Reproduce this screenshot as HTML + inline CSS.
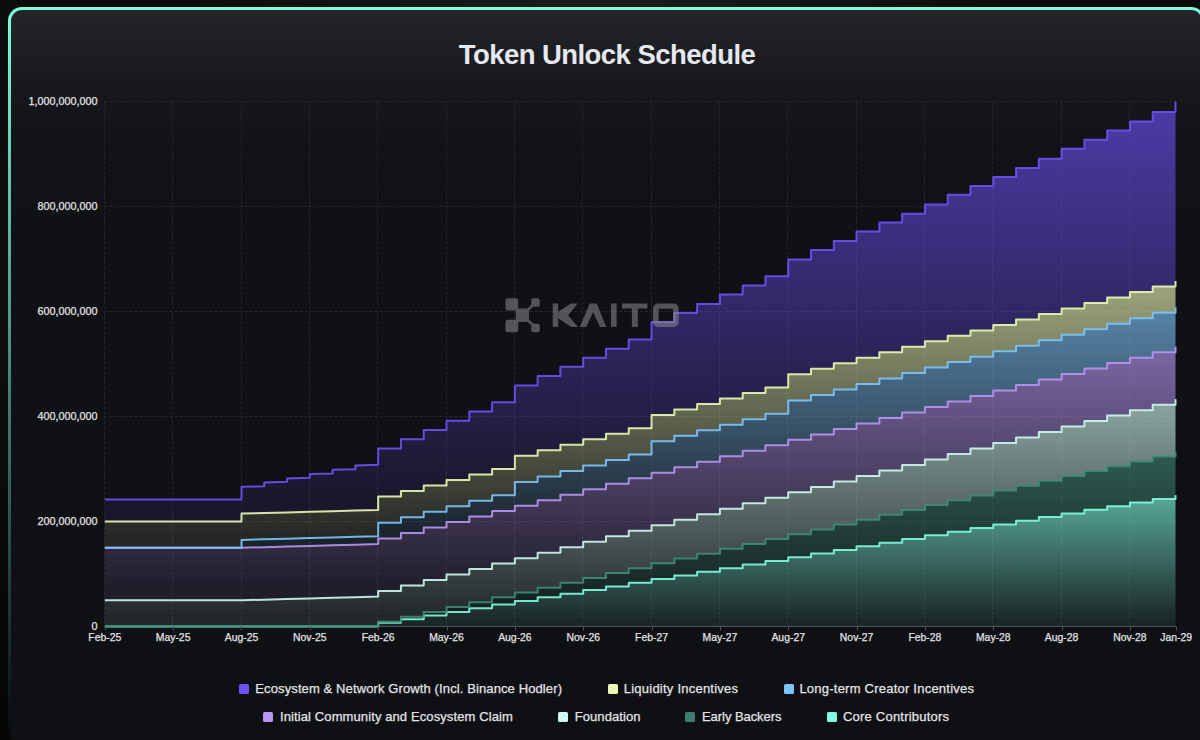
<!DOCTYPE html>
<html><head><meta charset="utf-8"><style>
html,body{margin:0;padding:0;}
body{width:1200px;height:740px;overflow:hidden;background:radial-gradient(ellipse 420px 90px at 600px 0px,#1c1c1c 0%,rgba(13,13,13,0) 100%),linear-gradient(to bottom,#0b0b0b 0%,#0f0f0f 40%,#050505 100%);position:relative;font-family:"Liberation Sans",sans-serif;}
.card{position:absolute;left:8px;top:7px;width:1197px;height:743px;border-radius:14px;
background:linear-gradient(to bottom,#80fde0 0%,rgba(128,253,224,0.6) 40%,rgba(128,253,224,0) 100%);}
.inner{position:absolute;left:3px;top:3px;right:3px;bottom:3px;border-radius:11px;
background:linear-gradient(to bottom,#242529 0px,#1e1f23 37px,#17181c 77px,#121317 132px,#101115 242px,#0f1014 100%);}
.title{position:absolute;left:0;width:1214px;top:38px;text-align:center;color:#e6e8ef;font-weight:bold;font-size:27.5px;letter-spacing:-0.55px;line-height:34px;}
svg{position:absolute;left:0;top:0;}
.lg{position:absolute;color:#e4e4e6;font-size:13px;line-height:16px;white-space:nowrap;-webkit-text-stroke:0.25px #e4e4e6;}
.sq{position:absolute;width:10px;height:10px;border-radius:1.5px;}
</style></head><body>
<div class="card"><div class="inner"></div></div>
<div class="title">Token Unlock Schedule</div>
<svg width="1200" height="740" viewBox="0 0 1200 740">
<defs><linearGradient id="g0" x1="0" y1="0" x2="0" y2="1"><stop offset="5%" stop-color="#80fde0" stop-opacity="0.62"/><stop offset="95%" stop-color="#80fde0" stop-opacity="0.1"/></linearGradient><linearGradient id="g1" x1="0" y1="0" x2="0" y2="1"><stop offset="5%" stop-color="#3f8472" stop-opacity="0.62"/><stop offset="95%" stop-color="#3f8472" stop-opacity="0.1"/></linearGradient><linearGradient id="g2" x1="0" y1="0" x2="0" y2="1"><stop offset="5%" stop-color="#cff8ee" stop-opacity="0.62"/><stop offset="95%" stop-color="#cff8ee" stop-opacity="0.1"/></linearGradient><linearGradient id="g3" x1="0" y1="0" x2="0" y2="1"><stop offset="5%" stop-color="#b796f2" stop-opacity="0.62"/><stop offset="95%" stop-color="#b796f2" stop-opacity="0.1"/></linearGradient><linearGradient id="g4" x1="0" y1="0" x2="0" y2="1"><stop offset="5%" stop-color="#7ec4f8" stop-opacity="0.62"/><stop offset="95%" stop-color="#7ec4f8" stop-opacity="0.1"/></linearGradient><linearGradient id="g5" x1="0" y1="0" x2="0" y2="1"><stop offset="5%" stop-color="#ebf9b5" stop-opacity="0.62"/><stop offset="95%" stop-color="#ebf9b5" stop-opacity="0.1"/></linearGradient><linearGradient id="g6" x1="0" y1="0" x2="0" y2="1"><stop offset="5%" stop-color="#6a52f5" stop-opacity="0.62"/><stop offset="95%" stop-color="#6a52f5" stop-opacity="0.1"/></linearGradient></defs>
<g stroke="#25272b" stroke-width="1" stroke-dasharray="3 2"><line x1="104.5" y1="101.5" x2="1176" y2="101.5"/><line x1="104.5" y1="206.5" x2="1176" y2="206.5"/><line x1="104.5" y1="311.5" x2="1176" y2="311.5"/><line x1="104.5" y1="416.5" x2="1176" y2="416.5"/><line x1="104.5" y1="521.5" x2="1176" y2="521.5"/><line x1="104.5" y1="101.5" x2="104.5" y2="626"/><line x1="172.5" y1="101.5" x2="172.5" y2="626"/><line x1="241.5" y1="101.5" x2="241.5" y2="626"/><line x1="309.5" y1="101.5" x2="309.5" y2="626"/><line x1="377.5" y1="101.5" x2="377.5" y2="626"/><line x1="446.5" y1="101.5" x2="446.5" y2="626"/><line x1="514.5" y1="101.5" x2="514.5" y2="626"/><line x1="582.5" y1="101.5" x2="582.5" y2="626"/><line x1="651.5" y1="101.5" x2="651.5" y2="626"/><line x1="719.5" y1="101.5" x2="719.5" y2="626"/><line x1="787.5" y1="101.5" x2="787.5" y2="626"/><line x1="856.5" y1="101.5" x2="856.5" y2="626"/><line x1="924.5" y1="101.5" x2="924.5" y2="626"/><line x1="992.5" y1="101.5" x2="992.5" y2="626"/><line x1="1061.5" y1="101.5" x2="1061.5" y2="626"/><line x1="1129.5" y1="101.5" x2="1129.5" y2="626"/></g>
<path d="M104.80,626.50 378.17,626.50 378.17,622.85 400.95,622.85 400.95,619.21 423.73,619.21 423.73,615.56 446.51,615.56 446.51,611.92 469.30,611.92 469.30,608.27 492.08,608.27 492.08,604.62 514.86,604.62 514.86,600.98 537.64,600.98 537.64,597.33 560.42,597.33 560.42,593.69 583.20,593.69 583.20,590.04 605.98,590.04 605.98,586.40 628.76,586.40 628.76,582.75 651.54,582.75 651.54,579.10 674.32,579.10 674.32,575.46 697.11,575.46 697.11,571.81 719.89,571.81 719.89,568.17 742.67,568.17 742.67,564.52 765.45,564.52 765.45,560.88 788.23,560.88 788.23,557.23 811.01,557.23 811.01,553.58 833.79,553.58 833.79,549.94 856.57,549.94 856.57,546.29 879.35,546.29 879.35,542.65 902.13,542.65 902.13,539.00 924.92,539.00 924.92,535.35 947.70,535.35 947.70,531.71 970.48,531.71 970.48,528.06 993.26,528.06 993.26,524.42 1016.04,524.42 1016.04,520.77 1038.82,520.77 1038.82,517.12 1061.60,517.12 1061.60,513.48 1084.38,513.48 1084.38,509.83 1107.16,509.83 1107.16,506.19 1129.94,506.19 1129.94,502.54 1152.73,502.54 1152.73,498.90 1175.51,498.90 1175.51,495.25 1175.51,626.50 104.80,626.50Z" fill="url(#g0)"/><path d="M104.80,626.50 378.17,626.50 378.17,621.64 400.95,621.64 400.95,616.79 423.73,616.79 423.73,611.93 446.51,611.93 446.51,607.08 469.30,607.08 469.30,602.22 492.08,602.22 492.08,597.36 514.86,597.36 514.86,592.51 537.64,592.51 537.64,587.65 560.42,587.65 560.42,582.79 583.20,582.79 583.20,577.94 605.98,577.94 605.98,573.08 628.76,573.08 628.76,568.23 651.54,568.23 651.54,563.37 674.32,563.37 674.32,558.51 697.11,558.51 697.11,553.66 719.89,553.66 719.89,548.80 742.67,548.80 742.67,543.94 765.45,543.94 765.45,539.09 788.23,539.09 788.23,534.23 811.01,534.23 811.01,529.38 833.79,529.38 833.79,524.52 856.57,524.52 856.57,519.66 879.35,519.66 879.35,514.81 902.13,514.81 902.13,509.95 924.92,509.95 924.92,505.09 947.70,505.09 947.70,500.24 970.48,500.24 970.48,495.38 993.26,495.38 993.26,490.52 1016.04,490.52 1016.04,485.67 1038.82,485.67 1038.82,480.81 1061.60,480.81 1061.60,475.96 1084.38,475.96 1084.38,471.10 1107.16,471.10 1107.16,466.24 1129.94,466.24 1129.94,461.39 1152.73,461.39 1152.73,456.53 1175.51,456.53 1175.51,451.67 1175.51,495.25 1175.51,498.90 1152.73,498.90 1152.73,502.54 1129.94,502.54 1129.94,506.19 1107.16,506.19 1107.16,509.83 1084.38,509.83 1084.38,513.48 1061.60,513.48 1061.60,517.12 1038.82,517.12 1038.82,520.77 1016.04,520.77 1016.04,524.42 993.26,524.42 993.26,528.06 970.48,528.06 970.48,531.71 947.70,531.71 947.70,535.35 924.92,535.35 924.92,539.00 902.13,539.00 902.13,542.65 879.35,542.65 879.35,546.29 856.57,546.29 856.57,549.94 833.79,549.94 833.79,553.58 811.01,553.58 811.01,557.23 788.23,557.23 788.23,560.88 765.45,560.88 765.45,564.52 742.67,564.52 742.67,568.17 719.89,568.17 719.89,571.81 697.11,571.81 697.11,575.46 674.32,575.46 674.32,579.10 651.54,579.10 651.54,582.75 628.76,582.75 628.76,586.40 605.98,586.40 605.98,590.04 583.20,590.04 583.20,593.69 560.42,593.69 560.42,597.33 537.64,597.33 537.64,600.98 514.86,600.98 514.86,604.62 492.08,604.62 492.08,608.27 469.30,608.27 469.30,611.92 446.51,611.92 446.51,615.56 423.73,615.56 423.73,619.21 400.95,619.21 400.95,622.85 378.17,622.85 378.17,626.50 104.80,626.50Z" fill="url(#g1)"/><path d="M104.80,600.25 241.49,600.25 264.27,599.63 287.05,599.00 309.83,598.38 332.61,597.75 355.39,597.13 378.17,596.50 378.17,591.02 400.95,591.02 400.95,585.54 423.73,585.54 423.73,580.06 446.51,580.06 446.51,574.58 469.30,574.58 469.30,569.09 492.08,569.09 492.08,563.61 514.86,563.61 514.86,558.13 537.64,558.13 537.64,552.65 560.42,552.65 560.42,547.17 583.20,547.17 583.20,541.69 605.98,541.69 605.98,536.21 628.76,536.21 628.76,530.73 651.54,530.73 651.54,525.24 674.32,525.24 674.32,519.76 697.11,519.76 697.11,514.28 719.89,514.28 719.89,508.80 742.67,508.80 742.67,503.32 765.45,503.32 765.45,497.84 788.23,497.84 788.23,492.36 811.01,492.36 811.01,486.88 833.79,486.88 833.79,481.39 856.57,481.39 856.57,475.91 879.35,475.91 879.35,470.43 902.13,470.43 902.13,464.95 924.92,464.95 924.92,459.47 947.70,459.47 947.70,453.99 970.48,453.99 970.48,448.51 993.26,448.51 993.26,443.02 1016.04,443.02 1016.04,437.54 1038.82,437.54 1038.82,432.06 1061.60,432.06 1061.60,426.58 1084.38,426.58 1084.38,421.10 1107.16,421.10 1107.16,415.62 1129.94,415.62 1129.94,410.14 1152.73,410.14 1152.73,404.66 1175.51,404.66 1175.51,399.17 1175.51,451.67 1175.51,456.53 1152.73,456.53 1152.73,461.39 1129.94,461.39 1129.94,466.24 1107.16,466.24 1107.16,471.10 1084.38,471.10 1084.38,475.96 1061.60,475.96 1061.60,480.81 1038.82,480.81 1038.82,485.67 1016.04,485.67 1016.04,490.52 993.26,490.52 993.26,495.38 970.48,495.38 970.48,500.24 947.70,500.24 947.70,505.09 924.92,505.09 924.92,509.95 902.13,509.95 902.13,514.81 879.35,514.81 879.35,519.66 856.57,519.66 856.57,524.52 833.79,524.52 833.79,529.38 811.01,529.38 811.01,534.23 788.23,534.23 788.23,539.09 765.45,539.09 765.45,543.94 742.67,543.94 742.67,548.80 719.89,548.80 719.89,553.66 697.11,553.66 697.11,558.51 674.32,558.51 674.32,563.37 651.54,563.37 651.54,568.23 628.76,568.23 628.76,573.08 605.98,573.08 605.98,577.94 583.20,577.94 583.20,582.79 560.42,582.79 560.42,587.65 537.64,587.65 537.64,592.51 514.86,592.51 514.86,597.36 492.08,597.36 492.08,602.22 469.30,602.22 469.30,607.08 446.51,607.08 446.51,611.93 423.73,611.93 423.73,616.79 400.95,616.79 400.95,621.64 378.17,621.64 378.17,626.50 104.80,626.50Z" fill="url(#g2)"/><path d="M104.80,547.75 241.49,547.75 264.27,547.13 287.05,546.50 309.83,545.88 332.61,545.25 355.39,544.63 378.17,544.00 378.17,538.52 400.95,538.52 400.95,533.04 423.73,533.04 423.73,527.56 446.51,527.56 446.51,522.08 469.30,522.08 469.30,516.59 492.08,516.59 492.08,511.11 514.86,511.11 514.86,505.63 537.64,505.63 537.64,500.15 560.42,500.15 560.42,494.67 583.20,494.67 583.20,489.19 605.98,489.19 605.98,483.71 628.76,483.71 628.76,478.23 651.54,478.23 651.54,472.74 674.32,472.74 674.32,467.26 697.11,467.26 697.11,461.78 719.89,461.78 719.89,456.30 742.67,456.30 742.67,450.82 765.45,450.82 765.45,445.34 788.23,445.34 788.23,439.86 811.01,439.86 811.01,434.38 833.79,434.38 833.79,428.89 856.57,428.89 856.57,423.41 879.35,423.41 879.35,417.93 902.13,417.93 902.13,412.45 924.92,412.45 924.92,406.97 947.70,406.97 947.70,401.49 970.48,401.49 970.48,396.01 993.26,396.01 993.26,390.52 1016.04,390.52 1016.04,385.04 1038.82,385.04 1038.82,379.56 1061.60,379.56 1061.60,374.08 1084.38,374.08 1084.38,368.60 1107.16,368.60 1107.16,363.12 1129.94,363.12 1129.94,357.64 1152.73,357.64 1152.73,352.16 1175.51,352.16 1175.51,346.68 1175.51,399.17 1175.51,404.66 1152.73,404.66 1152.73,410.14 1129.94,410.14 1129.94,415.62 1107.16,415.62 1107.16,421.10 1084.38,421.10 1084.38,426.58 1061.60,426.58 1061.60,432.06 1038.82,432.06 1038.82,437.54 1016.04,437.54 1016.04,443.02 993.26,443.02 993.26,448.51 970.48,448.51 970.48,453.99 947.70,453.99 947.70,459.47 924.92,459.47 924.92,464.95 902.13,464.95 902.13,470.43 879.35,470.43 879.35,475.91 856.57,475.91 856.57,481.39 833.79,481.39 833.79,486.88 811.01,486.88 811.01,492.36 788.23,492.36 788.23,497.84 765.45,497.84 765.45,503.32 742.67,503.32 742.67,508.80 719.89,508.80 719.89,514.28 697.11,514.28 697.11,519.76 674.32,519.76 674.32,525.24 651.54,525.24 651.54,530.73 628.76,530.73 628.76,536.21 605.98,536.21 605.98,541.69 583.20,541.69 583.20,547.17 560.42,547.17 560.42,552.65 537.64,552.65 537.64,558.13 514.86,558.13 514.86,563.61 492.08,563.61 492.08,569.09 469.30,569.09 469.30,574.58 446.51,574.58 446.51,580.06 423.73,580.06 423.73,585.54 400.95,585.54 400.95,591.02 378.17,591.02 378.17,596.50 355.39,597.13 332.61,597.75 309.83,598.38 287.05,599.00 264.27,599.63 241.49,600.25 104.80,600.25Z" fill="url(#g3)"/><path d="M104.80,547.75 241.49,547.75 241.49,539.88 264.27,539.25 287.05,538.63 309.83,538.00 332.61,537.38 355.39,536.75 378.17,536.13 378.17,522.77 400.95,522.77 400.95,517.29 423.73,517.29 423.73,511.81 446.51,511.81 446.51,506.32 469.30,506.32 469.30,500.84 492.08,500.84 492.08,495.36 514.86,495.36 514.86,482.01 537.64,482.01 537.64,476.52 560.42,476.52 560.42,471.04 583.20,471.04 583.20,465.56 605.98,465.56 605.98,460.08 628.76,460.08 628.76,454.60 651.54,454.60 651.54,441.24 674.32,441.24 674.32,435.76 697.11,435.76 697.11,430.28 719.89,430.28 719.89,424.80 742.67,424.80 742.67,419.32 765.45,419.32 765.45,413.84 788.23,413.84 788.23,400.48 811.01,400.48 811.01,395.00 833.79,395.00 833.79,389.52 856.57,389.52 856.57,384.04 879.35,384.04 879.35,378.56 902.13,378.56 902.13,373.07 924.92,373.07 924.92,367.59 947.70,367.59 947.70,362.11 970.48,362.11 970.48,356.63 993.26,356.63 993.26,351.15 1016.04,351.15 1016.04,345.67 1038.82,345.67 1038.82,340.19 1061.60,340.19 1061.60,334.71 1084.38,334.71 1084.38,329.23 1107.16,329.23 1107.16,323.74 1129.94,323.74 1129.94,318.26 1152.73,318.26 1152.73,312.78 1175.51,312.78 1175.51,307.30 1175.51,346.68 1175.51,352.16 1152.73,352.16 1152.73,357.64 1129.94,357.64 1129.94,363.12 1107.16,363.12 1107.16,368.60 1084.38,368.60 1084.38,374.08 1061.60,374.08 1061.60,379.56 1038.82,379.56 1038.82,385.04 1016.04,385.04 1016.04,390.52 993.26,390.52 993.26,396.01 970.48,396.01 970.48,401.49 947.70,401.49 947.70,406.97 924.92,406.97 924.92,412.45 902.13,412.45 902.13,417.93 879.35,417.93 879.35,423.41 856.57,423.41 856.57,428.89 833.79,428.89 833.79,434.38 811.01,434.38 811.01,439.86 788.23,439.86 788.23,445.34 765.45,445.34 765.45,450.82 742.67,450.82 742.67,456.30 719.89,456.30 719.89,461.78 697.11,461.78 697.11,467.26 674.32,467.26 674.32,472.74 651.54,472.74 651.54,478.23 628.76,478.23 628.76,483.71 605.98,483.71 605.98,489.19 583.20,489.19 583.20,494.67 560.42,494.67 560.42,500.15 537.64,500.15 537.64,505.63 514.86,505.63 514.86,511.11 492.08,511.11 492.08,516.59 469.30,516.59 469.30,522.08 446.51,522.08 446.51,527.56 423.73,527.56 423.73,533.04 400.95,533.04 400.95,538.52 378.17,538.52 378.17,544.00 355.39,544.63 332.61,545.25 309.83,545.88 287.05,546.50 264.27,547.13 241.49,547.75 104.80,547.75Z" fill="url(#g4)"/><path d="M104.80,521.50 241.49,521.50 241.49,513.62 264.27,513.00 287.05,512.38 309.83,511.75 332.61,511.13 355.39,510.50 378.17,509.88 378.17,496.52 400.95,496.52 400.95,491.04 423.73,491.04 423.73,485.56 446.51,485.56 446.51,480.07 469.30,480.07 469.30,474.59 492.08,474.59 492.08,469.11 514.86,469.11 514.86,455.76 537.64,455.76 537.64,450.27 560.42,450.27 560.42,444.79 583.20,444.79 583.20,439.31 605.98,439.31 605.98,433.83 628.76,433.83 628.76,428.35 651.54,428.35 651.54,414.99 674.32,414.99 674.32,409.51 697.11,409.51 697.11,404.03 719.89,404.03 719.89,398.55 742.67,398.55 742.67,393.07 765.45,393.07 765.45,387.59 788.23,387.59 788.23,374.23 811.01,374.23 811.01,368.75 833.79,368.75 833.79,363.27 856.57,363.27 856.57,357.79 879.35,357.79 879.35,352.31 902.13,352.31 902.13,346.82 924.92,346.82 924.92,341.34 947.70,341.34 947.70,335.86 970.48,335.86 970.48,330.38 993.26,330.38 993.26,324.90 1016.04,324.90 1016.04,319.42 1038.82,319.42 1038.82,313.94 1061.60,313.94 1061.60,308.46 1084.38,308.46 1084.38,302.98 1107.16,302.98 1107.16,297.49 1129.94,297.49 1129.94,292.01 1152.73,292.01 1152.73,286.53 1175.51,286.53 1175.51,281.05 1175.51,307.30 1175.51,312.78 1152.73,312.78 1152.73,318.26 1129.94,318.26 1129.94,323.74 1107.16,323.74 1107.16,329.23 1084.38,329.23 1084.38,334.71 1061.60,334.71 1061.60,340.19 1038.82,340.19 1038.82,345.67 1016.04,345.67 1016.04,351.15 993.26,351.15 993.26,356.63 970.48,356.63 970.48,362.11 947.70,362.11 947.70,367.59 924.92,367.59 924.92,373.07 902.13,373.07 902.13,378.56 879.35,378.56 879.35,384.04 856.57,384.04 856.57,389.52 833.79,389.52 833.79,395.00 811.01,395.00 811.01,400.48 788.23,400.48 788.23,413.84 765.45,413.84 765.45,419.32 742.67,419.32 742.67,424.80 719.89,424.80 719.89,430.28 697.11,430.28 697.11,435.76 674.32,435.76 674.32,441.24 651.54,441.24 651.54,454.60 628.76,454.60 628.76,460.08 605.98,460.08 605.98,465.56 583.20,465.56 583.20,471.04 560.42,471.04 560.42,476.52 537.64,476.52 537.64,482.01 514.86,482.01 514.86,495.36 492.08,495.36 492.08,500.84 469.30,500.84 469.30,506.32 446.51,506.32 446.51,511.81 423.73,511.81 423.73,517.29 400.95,517.29 400.95,522.77 378.17,522.77 378.17,536.13 355.39,536.75 332.61,537.38 309.83,538.00 287.05,538.63 264.27,539.25 241.49,539.88 241.49,547.75 104.80,547.75Z" fill="url(#g5)"/><path d="M104.80,499.50 241.49,499.50 241.49,486.80 264.27,486.18 264.27,482.40 287.05,481.78 287.05,478.40 309.83,477.78 309.83,474.00 332.61,473.38 332.61,469.80 355.39,469.18 355.39,465.40 378.17,464.78 378.17,448.60 400.95,448.60 400.95,439.20 423.73,439.20 423.73,430.10 446.51,430.10 446.51,420.80 469.30,420.80 469.30,411.50 492.08,411.50 492.08,402.20 514.86,402.20 514.86,385.50 537.64,385.50 537.64,376.10 560.42,376.10 560.42,366.80 583.20,366.80 583.20,357.70 605.98,357.70 605.98,348.70 628.76,348.70 628.76,339.60 651.54,339.60 651.54,322.00 674.32,322.00 674.32,312.90 697.11,312.90 697.11,303.90 719.89,303.90 719.89,294.40 742.67,294.40 742.67,285.40 765.45,285.40 765.45,276.30 788.23,276.30 788.23,259.40 811.01,259.40 811.01,250.00 833.79,250.00 833.79,240.90 856.57,240.90 856.57,231.60 879.35,231.60 879.35,222.60 902.13,222.60 902.13,213.70 924.92,213.70 924.92,204.60 947.70,204.60 947.70,194.80 970.48,194.80 970.48,185.90 993.26,185.90 993.26,177.00 1016.04,177.00 1016.04,167.90 1038.82,167.90 1038.82,158.80 1061.60,158.80 1061.60,148.80 1084.38,148.80 1084.38,139.70 1107.16,139.70 1107.16,130.60 1129.94,130.60 1129.94,121.50 1152.73,121.50 1152.73,112.00 1175.51,112.00 1175.51,101.50 1175.51,281.05 1175.51,286.53 1152.73,286.53 1152.73,292.01 1129.94,292.01 1129.94,297.49 1107.16,297.49 1107.16,302.98 1084.38,302.98 1084.38,308.46 1061.60,308.46 1061.60,313.94 1038.82,313.94 1038.82,319.42 1016.04,319.42 1016.04,324.90 993.26,324.90 993.26,330.38 970.48,330.38 970.48,335.86 947.70,335.86 947.70,341.34 924.92,341.34 924.92,346.82 902.13,346.82 902.13,352.31 879.35,352.31 879.35,357.79 856.57,357.79 856.57,363.27 833.79,363.27 833.79,368.75 811.01,368.75 811.01,374.23 788.23,374.23 788.23,387.59 765.45,387.59 765.45,393.07 742.67,393.07 742.67,398.55 719.89,398.55 719.89,404.03 697.11,404.03 697.11,409.51 674.32,409.51 674.32,414.99 651.54,414.99 651.54,428.35 628.76,428.35 628.76,433.83 605.98,433.83 605.98,439.31 583.20,439.31 583.20,444.79 560.42,444.79 560.42,450.27 537.64,450.27 537.64,455.76 514.86,455.76 514.86,469.11 492.08,469.11 492.08,474.59 469.30,474.59 469.30,480.07 446.51,480.07 446.51,485.56 423.73,485.56 423.73,491.04 400.95,491.04 400.95,496.52 378.17,496.52 378.17,509.88 355.39,510.50 332.61,511.13 309.83,511.75 287.05,512.38 264.27,513.00 241.49,513.62 241.49,521.50 104.80,521.50Z" fill="url(#g6)"/>
<line x1="104.5" y1="626.5" x2="1176" y2="626.5" stroke="#51545c" stroke-width="1"/>
<polyline points="104.80,626.50 378.17,626.50 378.17,622.85 400.95,622.85 400.95,619.21 423.73,619.21 423.73,615.56 446.51,615.56 446.51,611.92 469.30,611.92 469.30,608.27 492.08,608.27 492.08,604.62 514.86,604.62 514.86,600.98 537.64,600.98 537.64,597.33 560.42,597.33 560.42,593.69 583.20,593.69 583.20,590.04 605.98,590.04 605.98,586.40 628.76,586.40 628.76,582.75 651.54,582.75 651.54,579.10 674.32,579.10 674.32,575.46 697.11,575.46 697.11,571.81 719.89,571.81 719.89,568.17 742.67,568.17 742.67,564.52 765.45,564.52 765.45,560.88 788.23,560.88 788.23,557.23 811.01,557.23 811.01,553.58 833.79,553.58 833.79,549.94 856.57,549.94 856.57,546.29 879.35,546.29 879.35,542.65 902.13,542.65 902.13,539.00 924.92,539.00 924.92,535.35 947.70,535.35 947.70,531.71 970.48,531.71 970.48,528.06 993.26,528.06 993.26,524.42 1016.04,524.42 1016.04,520.77 1038.82,520.77 1038.82,517.12 1061.60,517.12 1061.60,513.48 1084.38,513.48 1084.38,509.83 1107.16,509.83 1107.16,506.19 1129.94,506.19 1129.94,502.54 1152.73,502.54 1152.73,498.90 1175.51,498.90 1175.51,495.25" fill="none" stroke="#80fde0" stroke-width="2" stroke-linejoin="round" stroke-opacity="0.9"/><polyline points="104.80,626.50 378.17,626.50 378.17,621.64 400.95,621.64 400.95,616.79 423.73,616.79 423.73,611.93 446.51,611.93 446.51,607.08 469.30,607.08 469.30,602.22 492.08,602.22 492.08,597.36 514.86,597.36 514.86,592.51 537.64,592.51 537.64,587.65 560.42,587.65 560.42,582.79 583.20,582.79 583.20,577.94 605.98,577.94 605.98,573.08 628.76,573.08 628.76,568.23 651.54,568.23 651.54,563.37 674.32,563.37 674.32,558.51 697.11,558.51 697.11,553.66 719.89,553.66 719.89,548.80 742.67,548.80 742.67,543.94 765.45,543.94 765.45,539.09 788.23,539.09 788.23,534.23 811.01,534.23 811.01,529.38 833.79,529.38 833.79,524.52 856.57,524.52 856.57,519.66 879.35,519.66 879.35,514.81 902.13,514.81 902.13,509.95 924.92,509.95 924.92,505.09 947.70,505.09 947.70,500.24 970.48,500.24 970.48,495.38 993.26,495.38 993.26,490.52 1016.04,490.52 1016.04,485.67 1038.82,485.67 1038.82,480.81 1061.60,480.81 1061.60,475.96 1084.38,475.96 1084.38,471.10 1107.16,471.10 1107.16,466.24 1129.94,466.24 1129.94,461.39 1152.73,461.39 1152.73,456.53 1175.51,456.53 1175.51,451.67" fill="none" stroke="#3f8c78" stroke-width="2" stroke-linejoin="round" stroke-opacity="0.9"/><polyline points="104.80,600.25 241.49,600.25 264.27,599.63 287.05,599.00 309.83,598.38 332.61,597.75 355.39,597.13 378.17,596.50 378.17,591.02 400.95,591.02 400.95,585.54 423.73,585.54 423.73,580.06 446.51,580.06 446.51,574.58 469.30,574.58 469.30,569.09 492.08,569.09 492.08,563.61 514.86,563.61 514.86,558.13 537.64,558.13 537.64,552.65 560.42,552.65 560.42,547.17 583.20,547.17 583.20,541.69 605.98,541.69 605.98,536.21 628.76,536.21 628.76,530.73 651.54,530.73 651.54,525.24 674.32,525.24 674.32,519.76 697.11,519.76 697.11,514.28 719.89,514.28 719.89,508.80 742.67,508.80 742.67,503.32 765.45,503.32 765.45,497.84 788.23,497.84 788.23,492.36 811.01,492.36 811.01,486.88 833.79,486.88 833.79,481.39 856.57,481.39 856.57,475.91 879.35,475.91 879.35,470.43 902.13,470.43 902.13,464.95 924.92,464.95 924.92,459.47 947.70,459.47 947.70,453.99 970.48,453.99 970.48,448.51 993.26,448.51 993.26,443.02 1016.04,443.02 1016.04,437.54 1038.82,437.54 1038.82,432.06 1061.60,432.06 1061.60,426.58 1084.38,426.58 1084.38,421.10 1107.16,421.10 1107.16,415.62 1129.94,415.62 1129.94,410.14 1152.73,410.14 1152.73,404.66 1175.51,404.66 1175.51,399.17" fill="none" stroke="#cff8ee" stroke-width="2" stroke-linejoin="round" stroke-opacity="0.9"/><polyline points="104.80,547.75 241.49,547.75 264.27,547.13 287.05,546.50 309.83,545.88 332.61,545.25 355.39,544.63 378.17,544.00 378.17,538.52 400.95,538.52 400.95,533.04 423.73,533.04 423.73,527.56 446.51,527.56 446.51,522.08 469.30,522.08 469.30,516.59 492.08,516.59 492.08,511.11 514.86,511.11 514.86,505.63 537.64,505.63 537.64,500.15 560.42,500.15 560.42,494.67 583.20,494.67 583.20,489.19 605.98,489.19 605.98,483.71 628.76,483.71 628.76,478.23 651.54,478.23 651.54,472.74 674.32,472.74 674.32,467.26 697.11,467.26 697.11,461.78 719.89,461.78 719.89,456.30 742.67,456.30 742.67,450.82 765.45,450.82 765.45,445.34 788.23,445.34 788.23,439.86 811.01,439.86 811.01,434.38 833.79,434.38 833.79,428.89 856.57,428.89 856.57,423.41 879.35,423.41 879.35,417.93 902.13,417.93 902.13,412.45 924.92,412.45 924.92,406.97 947.70,406.97 947.70,401.49 970.48,401.49 970.48,396.01 993.26,396.01 993.26,390.52 1016.04,390.52 1016.04,385.04 1038.82,385.04 1038.82,379.56 1061.60,379.56 1061.60,374.08 1084.38,374.08 1084.38,368.60 1107.16,368.60 1107.16,363.12 1129.94,363.12 1129.94,357.64 1152.73,357.64 1152.73,352.16 1175.51,352.16 1175.51,346.68" fill="none" stroke="#b796f2" stroke-width="2" stroke-linejoin="round" stroke-opacity="0.9"/><polyline points="104.80,547.75 241.49,547.75 241.49,539.88 264.27,539.25 287.05,538.63 309.83,538.00 332.61,537.38 355.39,536.75 378.17,536.13 378.17,522.77 400.95,522.77 400.95,517.29 423.73,517.29 423.73,511.81 446.51,511.81 446.51,506.32 469.30,506.32 469.30,500.84 492.08,500.84 492.08,495.36 514.86,495.36 514.86,482.01 537.64,482.01 537.64,476.52 560.42,476.52 560.42,471.04 583.20,471.04 583.20,465.56 605.98,465.56 605.98,460.08 628.76,460.08 628.76,454.60 651.54,454.60 651.54,441.24 674.32,441.24 674.32,435.76 697.11,435.76 697.11,430.28 719.89,430.28 719.89,424.80 742.67,424.80 742.67,419.32 765.45,419.32 765.45,413.84 788.23,413.84 788.23,400.48 811.01,400.48 811.01,395.00 833.79,395.00 833.79,389.52 856.57,389.52 856.57,384.04 879.35,384.04 879.35,378.56 902.13,378.56 902.13,373.07 924.92,373.07 924.92,367.59 947.70,367.59 947.70,362.11 970.48,362.11 970.48,356.63 993.26,356.63 993.26,351.15 1016.04,351.15 1016.04,345.67 1038.82,345.67 1038.82,340.19 1061.60,340.19 1061.60,334.71 1084.38,334.71 1084.38,329.23 1107.16,329.23 1107.16,323.74 1129.94,323.74 1129.94,318.26 1152.73,318.26 1152.73,312.78 1175.51,312.78 1175.51,307.30" fill="none" stroke="#7ec4f8" stroke-width="2" stroke-linejoin="round" stroke-opacity="0.9"/><polyline points="104.80,521.50 241.49,521.50 241.49,513.62 264.27,513.00 287.05,512.38 309.83,511.75 332.61,511.13 355.39,510.50 378.17,509.88 378.17,496.52 400.95,496.52 400.95,491.04 423.73,491.04 423.73,485.56 446.51,485.56 446.51,480.07 469.30,480.07 469.30,474.59 492.08,474.59 492.08,469.11 514.86,469.11 514.86,455.76 537.64,455.76 537.64,450.27 560.42,450.27 560.42,444.79 583.20,444.79 583.20,439.31 605.98,439.31 605.98,433.83 628.76,433.83 628.76,428.35 651.54,428.35 651.54,414.99 674.32,414.99 674.32,409.51 697.11,409.51 697.11,404.03 719.89,404.03 719.89,398.55 742.67,398.55 742.67,393.07 765.45,393.07 765.45,387.59 788.23,387.59 788.23,374.23 811.01,374.23 811.01,368.75 833.79,368.75 833.79,363.27 856.57,363.27 856.57,357.79 879.35,357.79 879.35,352.31 902.13,352.31 902.13,346.82 924.92,346.82 924.92,341.34 947.70,341.34 947.70,335.86 970.48,335.86 970.48,330.38 993.26,330.38 993.26,324.90 1016.04,324.90 1016.04,319.42 1038.82,319.42 1038.82,313.94 1061.60,313.94 1061.60,308.46 1084.38,308.46 1084.38,302.98 1107.16,302.98 1107.16,297.49 1129.94,297.49 1129.94,292.01 1152.73,292.01 1152.73,286.53 1175.51,286.53 1175.51,281.05" fill="none" stroke="#ebf9b5" stroke-width="2" stroke-linejoin="round" stroke-opacity="0.9"/><polyline points="104.80,499.50 241.49,499.50 241.49,486.80 264.27,486.18 264.27,482.40 287.05,481.78 287.05,478.40 309.83,477.78 309.83,474.00 332.61,473.38 332.61,469.80 355.39,469.18 355.39,465.40 378.17,464.78 378.17,448.60 400.95,448.60 400.95,439.20 423.73,439.20 423.73,430.10 446.51,430.10 446.51,420.80 469.30,420.80 469.30,411.50 492.08,411.50 492.08,402.20 514.86,402.20 514.86,385.50 537.64,385.50 537.64,376.10 560.42,376.10 560.42,366.80 583.20,366.80 583.20,357.70 605.98,357.70 605.98,348.70 628.76,348.70 628.76,339.60 651.54,339.60 651.54,322.00 674.32,322.00 674.32,312.90 697.11,312.90 697.11,303.90 719.89,303.90 719.89,294.40 742.67,294.40 742.67,285.40 765.45,285.40 765.45,276.30 788.23,276.30 788.23,259.40 811.01,259.40 811.01,250.00 833.79,250.00 833.79,240.90 856.57,240.90 856.57,231.60 879.35,231.60 879.35,222.60 902.13,222.60 902.13,213.70 924.92,213.70 924.92,204.60 947.70,204.60 947.70,194.80 970.48,194.80 970.48,185.90 993.26,185.90 993.26,177.00 1016.04,177.00 1016.04,167.90 1038.82,167.90 1038.82,158.80 1061.60,158.80 1061.60,148.80 1084.38,148.80 1084.38,139.70 1107.16,139.70 1107.16,130.60 1129.94,130.60 1129.94,121.50 1152.73,121.50 1152.73,112.00 1175.51,112.00 1175.51,101.50" fill="none" stroke="#6a52f5" stroke-width="2" stroke-linejoin="round" stroke-opacity="0.9"/>
<g stroke="#4c4f56" stroke-width="1"><line x1="105.5" y1="626.5" x2="105.5" y2="630.5"/><line x1="173.5" y1="626.5" x2="173.5" y2="630.5"/><line x1="241.5" y1="626.5" x2="241.5" y2="630.5"/><line x1="310.5" y1="626.5" x2="310.5" y2="630.5"/><line x1="378.5" y1="626.5" x2="378.5" y2="630.5"/><line x1="447.5" y1="626.5" x2="447.5" y2="630.5"/><line x1="515.5" y1="626.5" x2="515.5" y2="630.5"/><line x1="583.5" y1="626.5" x2="583.5" y2="630.5"/><line x1="652.5" y1="626.5" x2="652.5" y2="630.5"/><line x1="720.5" y1="626.5" x2="720.5" y2="630.5"/><line x1="788.5" y1="626.5" x2="788.5" y2="630.5"/><line x1="857.5" y1="626.5" x2="857.5" y2="630.5"/><line x1="925.5" y1="626.5" x2="925.5" y2="630.5"/><line x1="993.5" y1="626.5" x2="993.5" y2="630.5"/><line x1="1062.5" y1="626.5" x2="1062.5" y2="630.5"/><line x1="1130.5" y1="626.5" x2="1130.5" y2="630.5"/><line x1="1176.5" y1="626.5" x2="1176.5" y2="630.5"/></g>
<g fill="#8b8c8e" opacity="0.55"><rect x="505.5" y="298.2" width="12.7" height="12.4" rx="2.2"/><rect x="505.5" y="319.7" width="12.7" height="12.5" rx="2.2"/><rect x="515.8" y="308.5" width="13.1" height="13.4" rx="1.0"/><rect x="531.3" y="298.2" width="8.5" height="8.5" rx="2"/><rect x="531.3" y="323.7" width="8.5" height="8.5" rx="2"/><path d="M527.2,310.6 L533.5,304.6 M527.2,319.8 L533.5,325.8" stroke-width="2.8" stroke="#8b8c8e" fill="none"/><rect x="552.7" y="303.5" width="5.5" height="23.4"/><polygon points="558.2,311.7 571,303.5 577.6,303.5 568.1,315.2 577.9,326.9 571.3,326.9 558.2,318.2"/><polygon points="579.8,326.9 589.7,303.5 596.7,303.5 606.3,326.9 599.9,326.9 593.2,312.0 586.2,326.9"/><rect x="611" y="303.5" width="5.6" height="23.4"/><path d="M622,303.5 H647.4 V308.6 H637.8 V326.9 H631.9 V308.6 H622 Z"/><path fill-rule="evenodd" d="M658,303.5 H673.6 A5,5 0 0 1 678.6,308.5 V321.9 A5,5 0 0 1 673.6,326.9 H658 A5,5 0 0 1 653,321.9 V308.5 A5,5 0 0 1 658,303.5 Z M659.6,308.8 H672 A1,1 0 0 1 673,309.8 V320.3 A1,1 0 0 1 672,321.3 H659.6 A1,1 0 0 1 658.6,320.3 V309.8 A1,1 0 0 1 659.6,308.8 Z"/></g>
<g fill="#e2e2e4" font-size="10.8" font-family="Liberation Sans, sans-serif" stroke="#e2e2e4" stroke-width="0.25"><text x="97.6" y="105.0" text-anchor="end">1,000,000,000</text><text x="97.6" y="210.0" text-anchor="end">800,000,000</text><text x="97.6" y="315.0" text-anchor="end">600,000,000</text><text x="97.6" y="420.0" text-anchor="end">400,000,000</text><text x="97.6" y="525.0" text-anchor="end">200,000,000</text><text x="97.6" y="630.0" text-anchor="end">0</text></g>
<g fill="#e2e2e4" font-size="10.4" font-family="Liberation Sans, sans-serif" stroke="#e2e2e4" stroke-width="0.25"><text x="104.8" y="640.6" text-anchor="middle">Feb-25</text><text x="173.1" y="640.6" text-anchor="middle">May-25</text><text x="241.5" y="640.6" text-anchor="middle">Aug-25</text><text x="309.8" y="640.6" text-anchor="middle">Nov-25</text><text x="378.2" y="640.6" text-anchor="middle">Feb-26</text><text x="446.5" y="640.6" text-anchor="middle">May-26</text><text x="514.9" y="640.6" text-anchor="middle">Aug-26</text><text x="583.2" y="640.6" text-anchor="middle">Nov-26</text><text x="651.5" y="640.6" text-anchor="middle">Feb-27</text><text x="719.9" y="640.6" text-anchor="middle">May-27</text><text x="788.2" y="640.6" text-anchor="middle">Aug-27</text><text x="856.6" y="640.6" text-anchor="middle">Nov-27</text><text x="924.9" y="640.6" text-anchor="middle">Feb-28</text><text x="993.3" y="640.6" text-anchor="middle">May-28</text><text x="1061.6" y="640.6" text-anchor="middle">Aug-28</text><text x="1129.9" y="640.6" text-anchor="middle">Nov-28</text><text x="1176.1" y="640.6" text-anchor="middle">Jan-29</text></g>
</svg>
<div class="sq" style="left:238.6px;top:683.8px;background:#6a52f5"></div><div class="lg" style="left:255.3px;top:680.9px;letter-spacing:0.113px">Ecosystem &amp; Network Growth (Incl. Binance Hodler)</div>
<div class="sq" style="left:607.7px;top:683.8px;background:#ebf9b5"></div><div class="lg" style="left:623.8px;top:680.9px;letter-spacing:0.229px">Liquidity Incentives</div>
<div class="sq" style="left:784.0px;top:683.8px;background:#7ec4f8"></div><div class="lg" style="left:799.4px;top:680.9px;letter-spacing:0.231px">Long-term Creator Incentives</div>
<div class="sq" style="left:263.4px;top:711.9px;background:#b796f2"></div><div class="lg" style="left:280.0px;top:709.0px;letter-spacing:0.105px">Initial Community and Ecosystem Claim</div>
<div class="sq" style="left:558.4px;top:711.9px;background:#cff8ee"></div><div class="lg" style="left:574.7px;top:709.0px;letter-spacing:0.093px">Foundation</div>
<div class="sq" style="left:685.4px;top:711.9px;background:#3f7c70"></div><div class="lg" style="left:702.0px;top:709.0px;letter-spacing:-0.059px">Early Backers</div>
<div class="sq" style="left:827.0px;top:711.9px;background:#80fde0"></div><div class="lg" style="left:843.0px;top:709.0px;letter-spacing:0.212px">Core Contributors</div>
</body></html>
